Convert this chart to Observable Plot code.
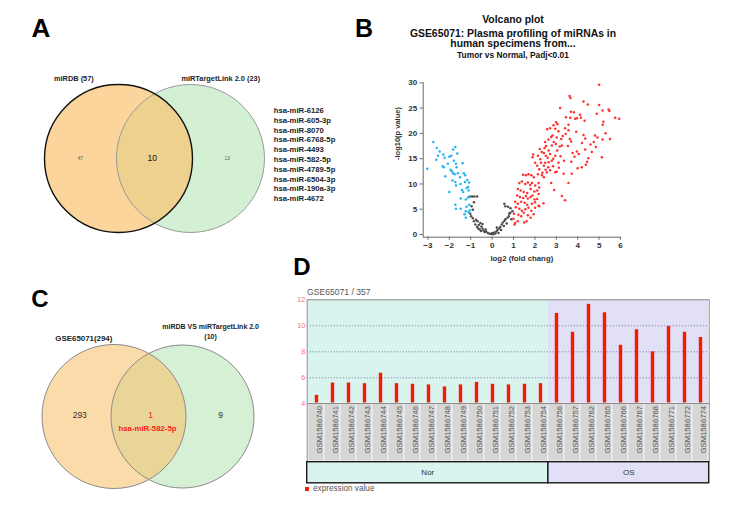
<!DOCTYPE html>
<html>
<head>
<meta charset="utf-8">
<script src="https://cdn.jsdelivr.net/npm/d3@7"></script>
<script src="https://cdn.jsdelivr.net/npm/@observablehq/plot@0.6"></script>
<style>
  body { margin: 0; background: #fff; }
  #fig { position: relative; width: 741px; height: 512px; overflow: hidden; background: #fff;
         font-family: "Liberation Sans", Arial, sans-serif; }
  #fig svg { position: absolute; }
</style>
</head>
<body>
<div id="fig"></div>
<script>
// ---------- Panel A: miRDB vs miRTargetLink 2.0 ----------
const vennASets = ["miRDB (57)", "miRTargetLink 2.0 (23)"];
const vennACounts = [47, 10, 13];            // left only, shared, right only
const sharedMirnas = ["hsa-miR-6126", "hsa-miR-605-3p", "hsa-miR-8070", "hsa-miR-6768-5p", "hsa-miR-4493",
                      "hsa-miR-582-5p", "hsa-miR-4789-5p", "hsa-miR-6504-3p", "hsa-miR-190a-3p", "hsa-miR-4672"];

// ---------- Panel B: volcano plot ----------
const volcanoTitle = ["Volcano plot", "GSE65071: Plasma profiling of miRNAs in", "human specimens from..."];
const volcanoSubtitle = "Tumor vs Normal, Padj<0.01";
const volcanoXLabel = "log2 (fold chang)";
const volcanoYLabel = "-log10(p value)";
const volcanoXTicks = [-3, -2, -1, 0, 1, 2, 3, 4, 5, 6];
const volcanoYTicks = [0, 5, 10, 15, 20, 25, 30];
const volcanoXExtent = [-3.22, 6];
const volcanoYExtent = [-0.53, 30];
// [log2 fold change, -log10 p]
const volcanoDown = [[-3.03,13.0],[-2.75,18.3],[-2.59,17.1],[-2.45,16.4],[-2.28,15.8],[-2.53,15.6],[-2.61,14.8],[-2.22,15.2],
  [-2.31,13.5],[-2.25,13.3],[-2.19,11.5],[-2.0,15.4],[-1.91,15.6],[-1.82,16.8],[-1.72,17.3],[-1.79,14.6],[-1.69,14.0],
  [-1.66,13.3],[-1.38,14.1],[-1.94,12.8],[-1.88,12.5],[-1.82,12.1],[-1.75,11.9],[-2.0,8.4],[-1.85,10.7],[-1.72,10.4],
  [-1.6,12.1],[-1.5,11.3],[-1.32,12.1],[-1.26,11.7],[-1.69,9.7],[-1.47,10.0],[-1.27,10.4],[-1.16,10.8],[-1.07,10.3],
  [-1.41,8.8],[-1.35,8.4],[-1.19,9.2],[-1.1,8.7],[-1.12,9.4],[-1.47,7.1],[-1.23,6.9],[-1.13,7.3],[-1.07,7.4],[-1.72,5.9],
  [-1.69,5.1],[-1.47,5.1],[-1.19,5.5],[-1.07,5.9],[-1.23,4.6],[-1.1,4.4],[-1.29,4.0],[-1.23,3.3],[-1.04,4.8],[-1.63,16.0],
  [-2.07,14.0]];
const volcanoNS = [[-1.04,7.5],[-0.93,7.5],[-0.83,7.5],[-0.7,7.5],[-0.85,6.4],[-0.96,5.6],[-0.9,4.9],[-1.02,4.1],[-0.98,3.6],
  [-0.9,3.2],[-0.75,2.9],[-0.68,2.6],[-0.55,2.3],[-0.78,2.0],[-0.62,1.9],[-0.7,1.5],[-0.5,1.6],[-0.45,1.2],[-0.58,1.0],
  [-0.4,0.8],[-0.52,0.7],[-0.35,0.5],[-0.28,0.6],[-0.2,0.3],[-0.12,0.15],[-0.05,0.1],[0.05,0.05],[0.1,0.4],[0.15,0.2],
  [0.2,0.6],[0.25,0.9],[0.3,0.3],[0.33,1.2],[0.38,1.5],[0.42,0.9],[0.45,2.0],[0.5,2.4],[0.55,1.7],[0.58,2.7],[0.62,3.0],
  [0.68,2.2],[0.72,3.3],[0.78,3.6],[0.8,4.1],[0.85,4.3],[0.9,3.0],[0.62,5.6],[0.57,6.1],[0.75,5.5],[0.86,5.2],[0.95,4.6],
  [-0.65,1.2],[-0.3,1.0],[0.0,0.3],[0.22,1.4],[-0.85,2.6],[-0.45,2.1]];
const volcanoUp = [[5.0,29.6],[3.62,27.4],[3.66,27.0],[4.27,26.3],[4.47,25.7],[3.18,25.0],[5.0,25.6],[5.16,24.5],[5.44,24.7],
  [5.48,24.4],[4.89,23.9],[5.75,23.1],[5.94,22.9],[3.68,24.3],[3.82,24.2],[3.65,23.1],[3.96,23.0],[4.11,23.7],[4.15,23.1],
  [3.88,22.9],[2.99,22.2],[2.87,21.6],[3.57,21.7],[5.2,22.3],[5.17,21.7],[2.71,21.0],[2.57,20.8],[3.41,21.0],[3.57,20.6],
  [3.44,19.9],[3.1,20.4],[2.82,19.6],[3.02,19.2],[3.23,18.9],[3.63,18.9],[4.27,19.7],[4.35,19.0],[4.81,19.6],[4.92,19.2],
  [5.51,18.9],[5.16,18.8],[2.48,18.3],[2.79,17.6],[2.88,18.3],[3.16,17.4],[3.26,17.6],[3.54,17.5],[3.69,18.4],[3.96,16.4],
  [3.76,16.1],[4.35,16.8],[4.66,16.3],[4.85,17.3],[4.5,15.1],[5.13,15.3],[2.45,17.1],[2.64,16.6],[2.42,16.1],[2.51,15.6],
  [2.71,15.9],[2.95,15.6],[1.92,15.8],[1.89,15.3],[2.14,15.6],[2.25,14.9],[2.29,14.2],[2.42,13.6],[2.48,14.2],[2.64,14.3],
  [2.79,14.6],[3.1,14.2],[2.01,14.2],[2.11,13.6],[2.2,12.9],[2.35,12.2],[2.56,12.3],[2.71,12.7],[2.95,12.3],[3.02,12.4],
  [3.34,12.0],[3.72,12.0],[4.0,13.1],[4.19,13.3],[4.38,13.8],[4.44,14.4],[2.23,16.9],[2.32,16.3],[2.6,15.2],[2.86,15.0],
  [3.04,16.6],[3.2,15.5],[3.36,14.6],[3.12,13.2],[2.85,13.5],[2.5,12.8],[2.62,13.3],[3.7,14.4],[3.85,15.4],[4.05,15.9],
  [4.6,17.8],[4.75,18.3],[2.52,17.5],[2.98,17.9],[3.3,19.5],[2.63,18.8],[2.76,19.3],[2.95,20.9],[3.05,21.8],[3.45,23.2],
  [4.32,22.5],[3.93,20.3],[4.2,18.1],[5.3,20.0],
  [1.45,11.8],[1.58,11.7],[1.7,11.9],[1.83,11.7],[1.95,11.3],[2.14,11.9],[2.33,11.7],[2.42,11.3],[2.76,10.2],[3.57,10.2],
  [2.9,8.8],[3.26,7.6],[3.41,6.8],[1.27,10.2],[1.39,10.5],[1.55,10.0],[1.67,10.3],[1.78,9.8],[1.86,10.2],[2.01,9.7],
  [2.17,10.2],[2.2,9.3],[1.2,9.0],[1.33,8.7],[1.48,8.4],[1.64,8.2],[1.8,9.0],[1.98,8.5],[2.11,8.7],[2.17,8.0],[1.17,7.7],
  [1.3,7.4],[1.45,7.2],[1.58,7.6],[1.67,7.1],[1.8,7.4],[1.89,7.7],[1.98,6.9],[2.11,7.0],[1.08,6.5],[1.2,6.1],[1.36,6.5],
  [1.52,6.3],[1.64,5.9],[1.86,6.1],[2.01,6.4],[2.17,5.7],[1.11,5.4],[1.27,5.1],[1.39,4.7],[1.55,5.0],[1.7,5.3],[1.83,4.7],
  [2.01,5.3],[2.2,5.6],[2.4,6.2],[1.02,4.1],[1.23,3.9],[1.36,3.6],[1.48,4.3],[1.67,3.8],[1.8,3.3],[1.94,4.0],[1.0,3.1],
  [1.08,2.3],[1.61,2.6],[1.2,2.6],[1.5,2.4],[1.05,2.0]];

// ---------- Panel C: GSE65071 vs the shared predictions ----------
const vennCSets = ["GSE65071(294)", "miRDB VS miRTargetLink 2.0\n(10)"];
const vennCCounts = [293, 1, 9];
const vennCShared = "hsa-miR-582-5p";

// ---------- Panel D: GEO2R expression profile ----------
const profileTitle = "GSE65071 / 357";
const samples = ["GSM1586740","GSM1586741","GSM1586742","GSM1586743","GSM1586744","GSM1586745","GSM1586746",
  "GSM1586747","GSM1586748","GSM1586749","GSM1586750","GSM1586751","GSM1586752","GSM1586753","GSM1586754",
  "GSM1586756","GSM1586757","GSM1586762","GSM1586765","GSM1586766","GSM1586767","GSM1586768","GSM1586771",
  "GSM1586772","GSM1586774"];
const sampleGroups = ["Nor","Nor","Nor","Nor","Nor","Nor","Nor","Nor","Nor","Nor","Nor","Nor","Nor","Nor","Nor",
  "OS","OS","OS","OS","OS","OS","OS","OS","OS","OS"];
const expression = [4.65, 5.6, 5.6, 5.55, 6.35, 5.55, 5.5, 5.45, 5.3, 5.45, 5.65, 5.5, 5.45, 5.5, 5.55,
  10.95, 9.5, 11.65, 11.0, 8.5, 9.7, 8.0, 9.95, 9.5, 9.1];
const profileYTicks = [4, 6, 8, 10, 12];
const profileGrid = [6, 8, 10];
const groupNames = ["Nor", "OS"];
const legendLabel = "expression value";

const panelLetters = ["A", "B", "C", "D"];

// ---------- layout helpers ----------
const FONT = "'Liberation Sans', Arial, sans-serif";
const fig = document.getElementById("fig");

function place(node, left, top) {
  node.style.left = left + "px";
  node.style.top = top + "px";
  fig.append(node);
}

function label(text, x, y, {size = 10, weight = 400, color = "#000", anchor = "middle"} = {}) {
  const el = document.createElement("div");
  el.textContent = text;
  const tx = anchor === "middle" ? "-50%" : anchor === "end" ? "-100%" : "0";
  Object.assign(el.style, {
    position: "absolute", left: x + "px", top: y + "px", fontSize: size + "px", fontWeight: weight,
    color, lineHeight: "1", whiteSpace: "nowrap", transform: `translate(${tx}, -50%)`
  });
  fig.append(el);
}

const baseStyle = {background: "transparent", fontFamily: FONT, overflow: "visible"};

// ---------- Panel A ----------
{
  const svg = Plot.plot({
    width: 370, height: 260, style: baseStyle,
    x: {domain: [0, 1], range: [118, 190], axis: null},
    y: {domain: [-1, 1], range: [232, 84], axis: null},
    marks: [
      Plot.dot([1], {x: d => d, y: 0, r: 74, fill: "#d4f0d4", stroke: "none"}),
      Plot.dot([0], {x: d => d, y: 0, r: 74, fill: "#fac370", fillOpacity: 0.7, stroke: "none"}),
      Plot.dot([1], {x: d => d, y: 0, r: 74, fill: "none", stroke: "#9a9a9a", strokeWidth: 1}),
      Plot.dot([0], {x: d => d, y: 0, r: 74, fill: "none", stroke: "#111", strokeWidth: 1.4}),
      Plot.text(vennASets, {x: (d, i) => [-0.62, 1.42][i], y: 1.077, text: d => d,
        fontSize: 7.4, fontWeight: "bold", fill: "#222"}),
      Plot.text(vennACounts, {x: (d, i) => [-0.53, 0.47, 1.51][i], y: 0, text: d => d,
        fontSize: (d, i) => i === 1 ? 8.5 : 4.8, fontWeight: (d, i) => i === 1 ? "bold" : "normal",
        fill: (d, i) => i === 1 ? "#111" : "#555"}),
      Plot.text(sharedMirnas, {x: 2.157, y: (d, i) => 0.649 - 0.1324 * i, text: d => d,
        textAnchor: "start", fontSize: 7.7, fontWeight: "bold", fill: "#222"})
    ]
  });
  place(svg, 0, 0);
  label(panelLetters[0], 41, 28, {size: 26, weight: 700});
}

// ---------- Panel B ----------
{
  const svg = Plot.plot({
    width: 371, height: 210, marginLeft: 52.7, marginRight: 121, marginTop: 22.3, marginBottom: 33.3,
    style: {...baseStyle, fontWeight: "bold", color: "#333"},
    x: {domain: volcanoXExtent, axis: null},
    y: {domain: volcanoYExtent, axis: null},
    marks: [
      Plot.ruleY([volcanoYExtent[0]], {stroke: "#666", strokeWidth: 1}),
      Plot.ruleX([volcanoXExtent[0]], {stroke: "#666", strokeWidth: 1}),
      Plot.axisX({ticks: volcanoXTicks, tickSize: 3, tickPadding: 2, fontSize: 8, fontWeight: "bold",
        label: null, stroke: "#666", fill: "#333"}),
      Plot.axisY({ticks: volcanoYTicks, tickSize: 3, tickPadding: 3, fontSize: 8, fontWeight: "bold",
        label: null, stroke: "#666", fill: "#333"}),
      Plot.text([volcanoXLabel], {frameAnchor: "bottom", dy: 24, text: d => d, fontSize: 7.8,
        fontWeight: "bold", fill: "#333"}),
      Plot.text([volcanoYLabel], {frameAnchor: "left", dx: -26, rotate: -90, text: d => d, fontSize: 7.5,
        fontWeight: "bold", fill: "#333"}),
      Plot.dot(volcanoNS, {x: d => d[0], y: d => d[1], r: 1.25, fill: "#4d4d4d"}),
      Plot.dot(volcanoDown, {x: d => d[0], y: d => d[1], r: 1.25, fill: "#1fb6f0"}),
      Plot.dot(volcanoUp, {x: d => d[0], y: d => d[1], r: 1.25, fill: "#ff3030"})
    ]
  });
  place(svg, 370, 60);
  const titleY = [20, 33.5, 43.5];
  volcanoTitle.forEach((t, i) => label(t, 513, titleY[i], {size: 10.4, weight: 700, color: "#111"}));
  label(volcanoSubtitle, 513, 54.5, {size: 8.4, weight: 700, color: "#111"});
  label(panelLetters[1], 364, 28, {size: 25, weight: 700});
}

// ---------- Panel C ----------
{
  const svg = Plot.plot({
    width: 300, height: 240, style: baseStyle,
    x: {domain: [0, 1], range: [113.5, 182], axis: null},
    y: {domain: [-1, 1], range: [218, 74], axis: null},
    marks: [
      Plot.dot([1], {x: d => d, y: 0, r: 71.5, fill: "#d5f0d5", stroke: "none"}),
      Plot.dot([0], {x: d => d, y: 0, r: 72, fill: "#f8c371", fillOpacity: 0.6, stroke: "none"}),
      Plot.dot([1], {x: d => d, y: 0, r: 71.5, fill: "none", stroke: "#8a8a8a", strokeWidth: 1}),
      Plot.dot([0], {x: d => d, y: 0, r: 72, fill: "none", stroke: "#8a8a8a", strokeWidth: 1}),
      Plot.text(vennCSets, {x: (d, i) => [-0.44, 1.41][i], y: (d, i) => [1.101, 1.194][i], text: d => d,
        fontSize: (d, i) => [7.9, 7][i], lineHeight: 1.45, fontWeight: "bold", fill: "#222"}),
      Plot.text(vennCCounts, {x: (d, i) => [-0.5, 0.533, 1.555][i], y: 0.014, text: d => d,
        fontSize: 8.5, fontWeight: (d, i) => i === 1 ? "bold" : "normal",
        fill: (d, i) => i === 1 ? "#ff1a1a" : "#333"}),
      Plot.text([vennCShared], {x: 0.489, y: -0.171, text: d => d, fontSize: 7.8, fontWeight: "bold",
        fill: "#ff1a1a"})
    ]
  });
  place(svg, 0, 270);
  label(panelLetters[2], 40, 298.5, {size: 24, weight: 700});
}

// ---------- Panel D ----------
{
  const groupFill = {domain: groupNames, range: ["#d9f4ee", "#e1e0f6"]};
  const W = 440, ML = 26.7, MR = 11.3;

  const bars = Plot.plot({
    width: W, height: 120, marginLeft: ML, marginRight: MR, marginTop: 14.3, marginBottom: 1.7,
    style: baseStyle,
    x: {type: "band", domain: samples, padding: 0, axis: null},
    y: {domain: [profileYTicks[0], profileYTicks[profileYTicks.length - 1]], axis: null},
    color: groupFill,
    marks: [
      Plot.barY(samples, {x: d => d, y1: 4, y2: 12, fill: (d, i) => sampleGroups[i], inset: 0}),
      Plot.ruleY(profileGrid, {stroke: "#6d6d9c", strokeDasharray: "1.2,1.8", strokeWidth: 0.8}),
      Plot.ruleX(samples, {x: d => d, y1: 4, y2: (d, i) => expression[i], stroke: "#f51a00", strokeWidth: 3.4}),
      Plot.frame({stroke: "#8c8c8c"}),
      Plot.axisY({ticks: profileYTicks, tickSize: 0, tickPadding: 2, fontSize: 7.2, fill: "#ff6b6b", label: null})
    ]
  });
  place(bars, 280, 285);

  const cells = Plot.plot({
    width: W, height: 58, marginLeft: ML, marginRight: MR, marginTop: 0, marginBottom: 0,
    style: baseStyle,
    x: {type: "band", domain: samples, padding: 0, axis: null},
    marks: [
      Plot.cell(samples, {x: d => d, fill: "#d6d6d6", stroke: "#f4f4f4", strokeWidth: 1}),
      Plot.text(samples, {x: d => d, text: d => d, frameAnchor: "top", rotate: -90, textAnchor: "end", dy: 2.5,
        fontSize: 7.7, fill: "#555"}),
      Plot.frame({stroke: "#8c8c8c"})
    ]
  });
  place(cells, 280, 403.3);

  const spans = d3.groups(sampleGroups.map((g, i) => ({g, i})), d => d.g)
    .map(([name, items]) => ({name, start: d3.min(items, d => d.i), end: d3.max(items, d => d.i) + 1}));
  const groupsRow = Plot.plot({
    width: W, height: 22.5, marginLeft: ML, marginRight: MR, marginTop: 0.7, marginBottom: 0.7,
    style: baseStyle,
    x: {domain: [0, samples.length], axis: null},
    y: {domain: [0, 1], axis: null},
    color: groupFill,
    marks: [
      Plot.rect(spans, {x1: "start", x2: "end", y1: 0, y2: 1, fill: "name", stroke: "#1a1a1a", strokeWidth: 1.4}),
      Plot.text(spans, {x: d => (d.start + d.end) / 2, y: 0.5, text: "name", fontSize: 8, fill: "#333"})
    ]
  });
  place(groupsRow, 280, 460.8);

  label(profileTitle, 307, 292, {size: 8.6, color: "#555", anchor: "start"});
  const sw = document.createElement("div");
  Object.assign(sw.style, {position: "absolute", left: "304.5px", top: "487px", width: "4px", height: "4px",
    background: "#f51a00"});
  fig.append(sw);
  label(legendLabel, 313, 489, {size: 8.2, color: "#555", anchor: "start"});
  label(panelLetters[3], 302, 267, {size: 24, weight: 700});
}
</script>
</body>
</html>
